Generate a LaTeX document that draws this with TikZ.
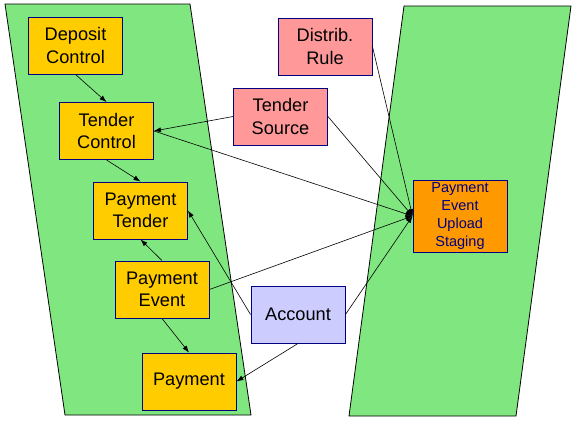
\documentclass[tikz,border=0pt]{standalone}
\usepackage{fontspec}
\setmainfont{Liberation Sans}
\usetikzlibrary{arrows.meta}
\definecolor{band}{HTML}{80E680}
\definecolor{gold}{HTML}{FFCC00}
\definecolor{rose}{HTML}{FF9999}
\definecolor{lilac}{HTML}{CCCCFF}
\definecolor{amber}{HTML}{FF9900}
\definecolor{navy}{HTML}{000080}
\begin{document}
\begin{tikzpicture}[x=1pt,y=-1pt,>={Latex[length=7pt,width=5pt]},
  obj/.style={draw=navy,line width=.9pt,minimum width=94pt,minimum height=57pt,inner sep=0pt,align=center,font=\fontsize{18.2}{22.5}\selectfont},
  link/.style={->,line width=.6pt}]
\useasboundingbox (0,0) rectangle (576,421);
\draw[fill=band,line width=.8pt](5,4)--(190,4)--(251,415)--(65,415)--cycle;
\draw[fill=band,line width=.8pt](404,6)--(571,6)--(516,416)--(349,416)--cycle;
\node[obj,fill=gold] (dc) at (75.5,45.5){Deposit\\Control};
\node[obj,fill=gold] (tc) at (106.5,131){Tender\\Control};
\node[obj,fill=gold] (pt) at (140.5,210.5){Payment\\Tender};
\node[obj,fill=gold] (pe) at (162,289.5){Payment\\Event};
\node[obj,fill=gold] (pay) at (189,381.5){Payment};
\node[obj,fill=lilac] (acct) at (298,314.5){Account};
\node[obj,fill=rose] (dr) at (325,46.5){Distrib.\\Rule};
\node[obj,fill=rose] (ts) at (280.5,116.5){Tender\\Source};
\node[obj,fill=amber,minimum height=72pt,text=navy,font=\fontsize{14.5}{17.7}\selectfont] (stg) at (460,216){Payment\\Event\\Upload\\Staging};
\draw[link](dc.south)--(tc.north);
\draw[link](tc.south)--(pt.north);
\draw[link](ts.west)--(tc.east);
\draw[link](pe.north)--(pt.south);
\draw[link](pe.south)--(pay.north);
\draw[link](acct.west)--(pt.east);
\draw[link](acct.south)--(pay.east);
\draw[link](tc.east)--(stg.west);
\draw[link](dr.east)--(stg.west);
\draw[link](ts.east)--(stg.west);
\draw[link](pe.east)--(stg.west);
\draw[link](acct.east)--(stg.west);
\end{tikzpicture}
\end{document}
